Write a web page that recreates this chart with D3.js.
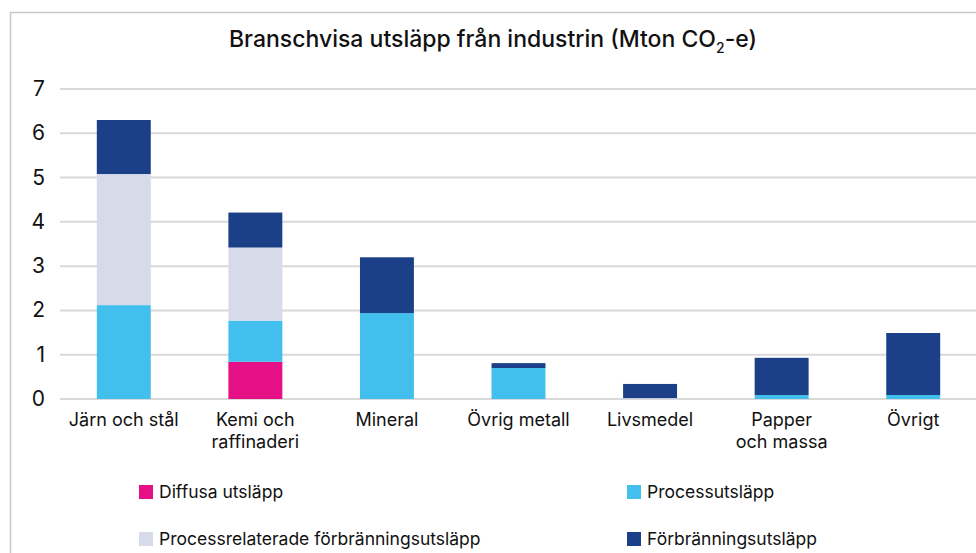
<!DOCTYPE html>
<html>
<head>
<meta charset="utf-8">
<script src="https://cdn.jsdelivr.net/npm/d3@7"></script>
<style>
  body { margin: 0; background: #fff; }
  text { font-family: Inter, "Liberation Sans", Arial, sans-serif; fill: #111; }
</style>
</head>
<body>
<svg id="chart" width="976" height="553"></svg>
<script>
// categories and series (Mton CO2-e)
const categories = ["Järn och stål", "Kemi och raffinaderi", "Mineral", "Övrig metall", "Livsmedel", "Papper och massa", "Övrigt"];
const categoryLines = [["Järn och stål"], ["Kemi och", "raffinaderi"], ["Mineral"], ["Övrig metall"], ["Livsmedel"], ["Papper", "och massa"], ["Övrigt"]];
const diffusa = [0, 0.84, 0, 0, 0, 0, 0];
const process = [2.12, 0.93, 1.94, 0.70, 0, 0.09, 0.09];
const processRel = [2.96, 1.65, 0, 0, 0.02, 0, 0];
const forbranning = [1.22, 0.79, 1.26, 0.11, 0.32, 0.84, 1.40];
const yTicks = [0, 1, 2, 3, 4, 5, 6, 7];

const seriesNames = ["Diffusa utsläpp", "Processutsläpp", "Processrelaterade förbränningsutsläpp", "Förbränningsutsläpp"];
const seriesColors = ["#e50f86", "#42bfec", "#d7dbe9", "#1c4087"];

const svg = d3.select("#chart");

// frame
svg.append("rect")
  .attr("x", 10.5).attr("y", 12.5)
  .attr("width", 1000).attr("height", 600)
  .attr("fill", "none").attr("stroke", "#c8c8c8").attr("stroke-width", 1.5);

// title with subscript
const title = svg.append("text")
  .attr("x", 493).attr("y", 47)
  .attr("text-anchor", "middle")
  .style("font-size", "23px").style("font-weight", 500);
title.append("tspan").text("Branschvisa utsläpp från industrin (Mton CO");
title.append("tspan").attr("dy", 6).style("font-size", "14px").text("2");
title.append("tspan").attr("dy", -6).text("-e)");

const x = d3.scaleBand().domain(categories).range([58, 979]).paddingInner(0.59).paddingOuter(0.295);
const y = d3.scaleLinear().domain([0, 7]).range([399, 89]);

// gridlines
svg.append("g")
  .selectAll("line").data(yTicks).join("line")
  .attr("x1", 60).attr("x2", 976)
  .attr("y1", d => y(d)).attr("y2", d => y(d))
  .attr("stroke", "#d9d9d9").attr("stroke-width", 2);

// y tick labels
svg.append("g")
  .selectAll("text").data(yTicks).join("text")
  .attr("x", 45).attr("y", d => y(d) + 7)
  .attr("text-anchor", "end")
  .style("font-size", "21px")
  .text(d => d);

// stacked bars
const rows = categories.map((c, i) => ({ cat: c, s0: diffusa[i], s1: process[i], s2: processRel[i], s3: forbranning[i] }));
const stack = d3.stack().keys(["s0", "s1", "s2", "s3"])(rows);

svg.append("g")
  .selectAll("g").data(stack).join("g")
  .attr("fill", (d, i) => seriesColors[i])
  .selectAll("rect").data(d => d).join("rect")
  .attr("x", d => x(d.data.cat))
  .attr("width", x.bandwidth())
  .attr("y", d => y(d[1]))
  .attr("height", d => y(d[0]) - y(d[1]));

// category labels
const catLabels = svg.append("g")
  .selectAll("text").data(categories).join("text")
  .attr("x", d => x(d) + x.bandwidth() / 2)
  .attr("y", 426)
  .attr("text-anchor", "middle")
  .style("font-size", "18px");
catLabels.selectAll("tspan").data((d, i) => categoryLines[i]).join("tspan")
  .attr("x", function() { return d3.select(this.parentNode).attr("x"); })
  .attr("dy", (d, i) => i === 0 ? 0 : 22)
  .text(d => d);

// legend
const legendPos = [[139, 485], [627, 485], [139, 532], [627, 532]];
const legend = svg.append("g")
  .selectAll("g").data(seriesNames).join("g")
  .attr("transform", (d, i) => `translate(${legendPos[i][0]},${legendPos[i][1]})`);
legend.append("rect").attr("width", 14).attr("height", 14).attr("fill", (d, i) => seriesColors[i]);
legend.append("text").attr("x", 20).attr("y", 13).style("font-size", "17.5px").text(d => d);
</script>
</body>
</html>
